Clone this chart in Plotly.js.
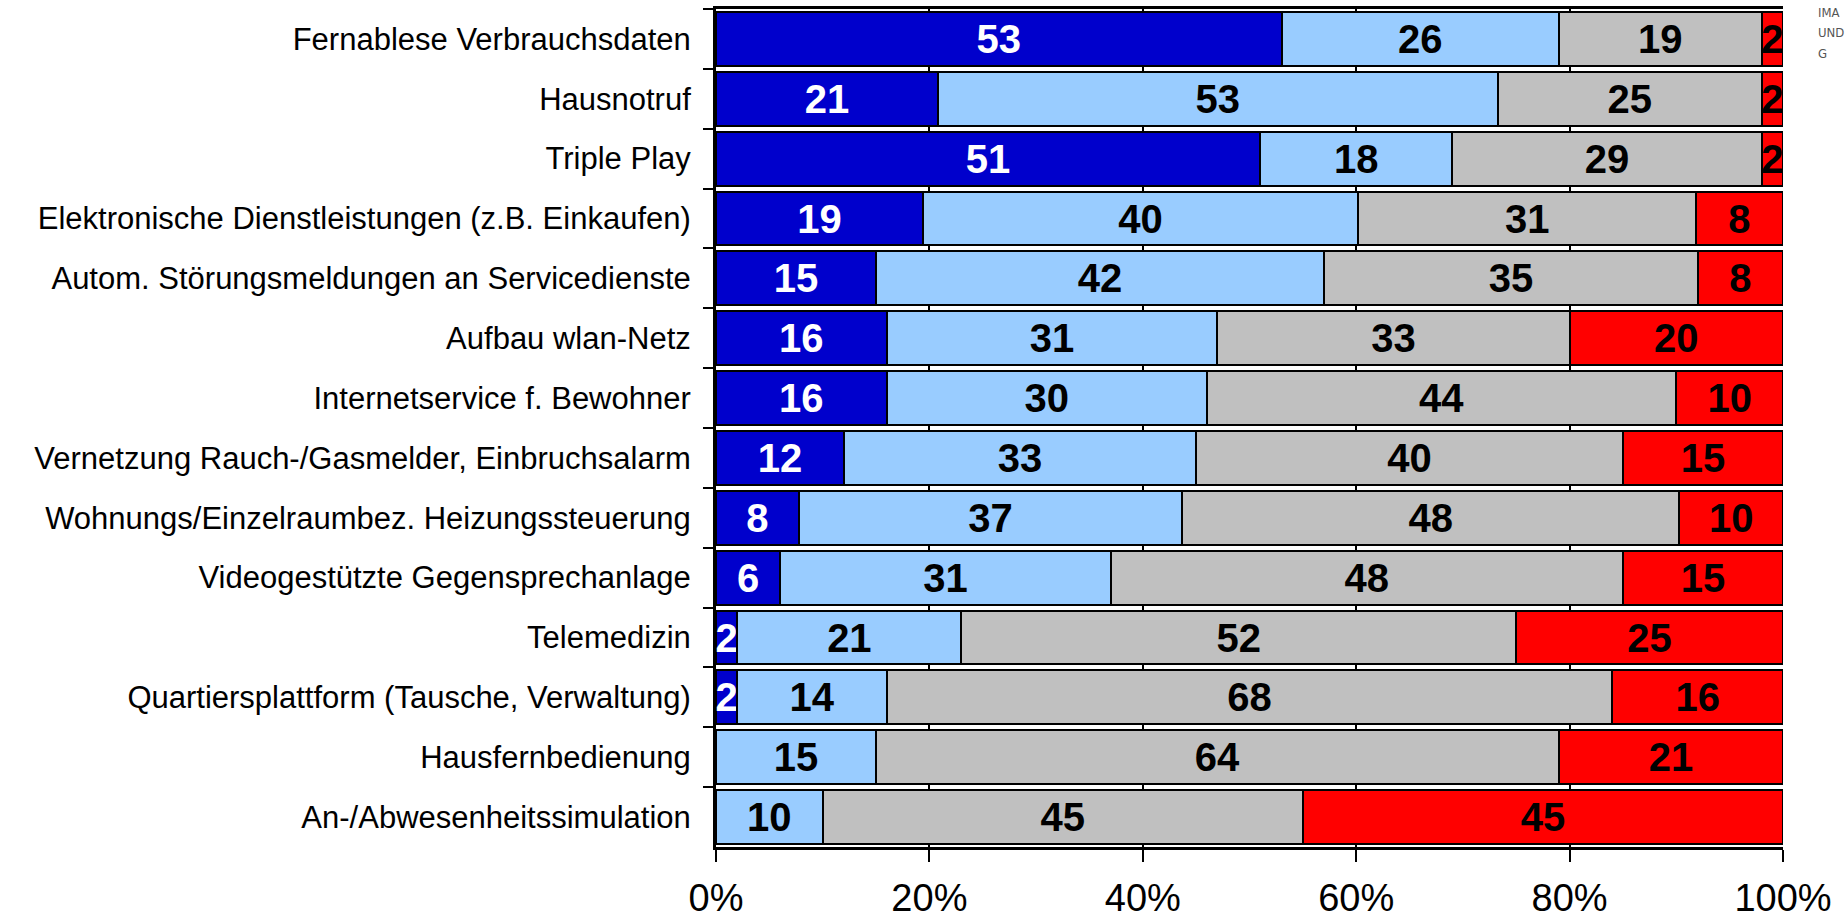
<!DOCTYPE html>
<html>
<head>
<meta charset="utf-8">
<script src="https://cdn.plot.ly/plotly-3.0.1.min.js"></script>
<style>html,body{margin:0;padding:0;background:#fff;}#chart{width:1847px;height:921px;}</style>
</head>
<body>
<div id="chart"></div>
<script>
const categories = [
  "Fernablese Verbrauchsdaten",
  "Hausnotruf",
  "Triple Play",
  "Elektronische Dienstleistungen (z.B. Einkaufen)",
  "Autom. Störungsmeldungen an Servicedienste",
  "Aufbau wlan-Netz",
  "Internetservice f. Bewohner",
  "Vernetzung Rauch-/Gasmelder, Einbruchsalarm",
  "Wohnungs/Einzelraumbez. Heizungssteuerung",
  "Videogestützte Gegensprechanlage",
  "Telemedizin",
  "Quartiersplattform (Tausche, Verwaltung)",
  "Hausfernbedienung",
  "An-/Abwesenheitssimulation"
];
const series1 = [53, 21, 51, 19, 15, 16, 16, 12, 8, 6, 2, 2, 0, 0];
const series2 = [26, 53, 18, 40, 42, 31, 30, 33, 37, 31, 21, 14, 15, 10];
const series3 = [19, 25, 29, 31, 35, 33, 44, 40, 48, 48, 52, 68, 64, 45];
const series4 = [2, 2, 2, 8, 8, 20, 10, 15, 10, 15, 25, 16, 21, 45];
const tickVals = [0, 20, 40, 60, 80, 100];
const logoLines = ["IMA", "UND", "G"];

const seriesList = [
  {vals: series1, color: "#0000CC", txt: "#FFFFFF"},
  {vals: series2, color: "#99CCFF", txt: "#000000"},
  {vals: series3, color: "#C0C0C0", txt: "#000000"},
  {vals: series4, color: "#FF0000", txt: "#000000"}
];

const traces = seriesList.map(s => ({
  type: "bar",
  orientation: "h",
  y: categories,
  x: s.vals,
  text: s.vals.map(v => v > 0 ? String(v) : ""),
  textposition: "inside",
  insidetextanchor: "middle",
  textangle: 0,
  constraintext: "none",
  cliponaxis: false,
  textfont: {family: "Liberation Sans, Arial, sans-serif", size: 40, color: s.txt, weight: "bold"},
  marker: {color: s.color, line: {color: "#000000", width: 2}},
  hoverinfo: "skip"
}));

const logoY = [0.996, 0.972, 0.947];

const layout = {
  width: 1847,
  height: 921,
  margin: {l: 716, r: 64, t: 9, b: 74},
  barmode: "stack",
  barnorm: "percent",
  bargap: 0.1,
  showlegend: false,
  paper_bgcolor: "#FFFFFF",
  plot_bgcolor: "#FFFFFF",
  font: {family: "Liberation Sans, Arial, sans-serif", color: "#000000"},
  uniformtext: {minsize: 40, mode: "show"},
  xaxis: {
    range: [0, 100.001],
    tickvals: tickVals,
    ticktext: tickVals.map(v => v + "%"),
    ticks: "outside",
    ticklen: 12,
    tickwidth: 2,
    tickcolor: "#000000",
    ticklabelstandoff: 3,
    tickfont: {size: 38, color: "#000000"},
    showgrid: true,
    gridcolor: "#000000",
    gridwidth: 2,
    showline: true,
    linecolor: "#000000",
    linewidth: 3,
    mirror: true,
    zeroline: false,
    fixedrange: true
  },
  yaxis: {
    autorange: "reversed",
    type: "category",
    ticks: "outside",
    tickson: "boundaries",
    ticklen: 10,
    tickwidth: 2,
    tickcolor: "#000000",
    ticklabelstandoff: 16,
    tickfont: {size: 31, color: "#000000"},
    showgrid: false,
    showline: true,
    linecolor: "#000000",
    linewidth: 3,
    zeroline: false,
    fixedrange: true
  },
  annotations: logoLines.map((t, i) => ({
    xref: "paper", yref: "paper", x: 1.031, y: logoY[i],
    xanchor: "left", yanchor: "middle", text: t, showarrow: false,
    font: {family: "DejaVu Sans Condensed, Liberation Sans Narrow, sans-serif", size: 13, color: "#555555"}
  }))
};

Plotly.newPlot("chart", traces, layout, {displayModeBar: false, staticPlot: true});
</script>
</body>
</html>
